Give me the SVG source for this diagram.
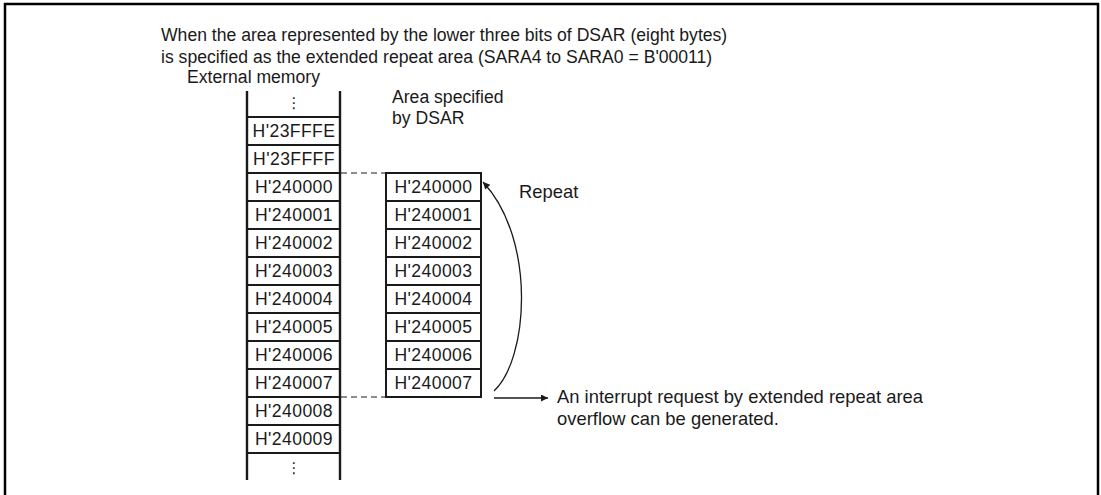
<svg xmlns="http://www.w3.org/2000/svg" width="1101" height="495" viewBox="0 0 1101 495">
<defs>
<style>
text{font-family:"Liberation Sans",Arial,sans-serif;font-size:17.6px;fill:#1a1a1a}
.c{text-anchor:middle}
.v{font-size:17.5px;letter-spacing:0.4px}
.big{font-size:18.4px}
.cell{fill:#fff;stroke:#1a1a1a;stroke-width:2}
.col{stroke:#1a1a1a;stroke-width:2.4;fill:none}
.dash{stroke:#1a1a1a;stroke-width:1.2;stroke-dasharray:6 4;fill:none}
.ln{stroke:#1a1a1a;stroke-width:1.3;fill:none}
.dots{font-family:"DejaVu Sans",sans-serif;font-size:15px}
</style>
<marker id="ah" viewBox="0 0 10 10" refX="10" refY="5" markerWidth="11" markerHeight="7" markerUnits="userSpaceOnUse" orient="auto">
<path d="M0,0 L10,5 L0,10 z" fill="#1a1a1a"/>
</marker>
</defs>
<rect width="1101" height="495" fill="#fff"/>
<path d="M5,500 V4 H1098 V500" fill="none" stroke="#000" stroke-width="2.5"/>
<g id="title">
<text x="161" y="41">When the area represented by the lower three bits of DSAR (eight bytes)</text>
<text x="161" y="63">is specified as the extended repeat area (SARA4 to SARA0 = B'00011)</text>
</g>
<g id="external-memory">
<text x="187" y="83">External memory</text>
<path class="col" d="M247,91 V480 M340,91 V480"/>
<g stroke="#1a1a1a" stroke-width="2">
<line x1="247" y1="117" x2="340" y2="117"/>
<line x1="247" y1="145" x2="340" y2="145"/>
<line x1="247" y1="173" x2="340" y2="173"/>
<line x1="247" y1="201" x2="340" y2="201"/>
<line x1="247" y1="229" x2="340" y2="229"/>
<line x1="247" y1="257" x2="340" y2="257"/>
<line x1="247" y1="285" x2="340" y2="285"/>
<line x1="247" y1="313" x2="340" y2="313"/>
<line x1="247" y1="341" x2="340" y2="341"/>
<line x1="247" y1="369" x2="340" y2="369"/>
<line x1="247" y1="397" x2="340" y2="397"/>
<line x1="247" y1="425" x2="340" y2="425"/>
<line x1="247" y1="453" x2="340" y2="453"/>
</g>
<text class="dots c" x="294" y="108">⋮</text>
<g class="v">
<text class="c" x="294" y="137">H'23FFFE</text>
<text class="c" x="294" y="165">H'23FFFF</text>
<text class="c" x="294" y="193">H'240000</text>
<text class="c" x="294" y="221">H'240001</text>
<text class="c" x="294" y="249">H'240002</text>
<text class="c" x="294" y="277">H'240003</text>
<text class="c" x="294" y="305">H'240004</text>
<text class="c" x="294" y="333">H'240005</text>
<text class="c" x="294" y="361">H'240006</text>
<text class="c" x="294" y="389">H'240007</text>
<text class="c" x="294" y="417">H'240008</text>
<text class="c" x="294" y="445">H'240009</text>
</g>
<text class="dots c" x="294" y="473">⋮</text>
</g>
<g id="dsar-area">
<text x="392" y="103">Area specified</text>
<text x="392" y="124">by DSAR</text>
<g class="cell">
<rect x="386" y="173" width="95" height="28"/>
<rect x="386" y="201" width="95" height="28"/>
<rect x="386" y="229" width="95" height="28"/>
<rect x="386" y="257" width="95" height="28"/>
<rect x="386" y="285" width="95" height="28"/>
<rect x="386" y="313" width="95" height="28"/>
<rect x="386" y="341" width="95" height="28"/>
<rect x="386" y="369" width="95" height="28"/>
</g>
<g class="v">
<text class="c" x="433.5" y="193">H'240000</text>
<text class="c" x="433.5" y="221">H'240001</text>
<text class="c" x="433.5" y="249">H'240002</text>
<text class="c" x="433.5" y="277">H'240003</text>
<text class="c" x="433.5" y="305">H'240004</text>
<text class="c" x="433.5" y="333">H'240005</text>
<text class="c" x="433.5" y="361">H'240006</text>
<text class="c" x="433.5" y="389">H'240007</text>
</g>
</g>
<g id="repeat-label"><text class="big" x="519" y="198">Repeat</text></g>
<g id="interrupt-label">
<text class="big" x="557" y="403">An interrupt request by extended repeat area</text>
<text class="big" x="557" y="425">overflow can be generated.</text>
</g>
<g id="connectors">
<path class="dash" d="M341,173 H386 M341,397 H386"/>
<path class="ln" d="M494,391 C528,360 537,240 483,182" marker-end="url(#ah)"/>
<path class="ln" d="M494,398 H548" marker-end="url(#ah)"/>
</g>
</svg>
